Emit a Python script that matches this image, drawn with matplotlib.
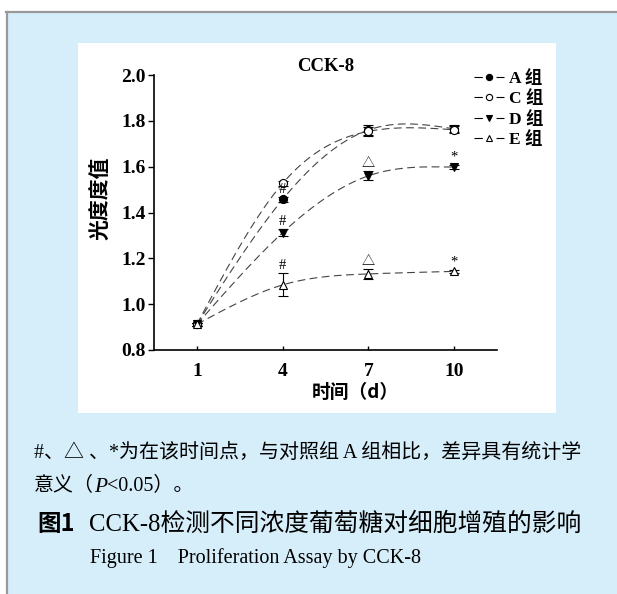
import numpy as np
import matplotlib
matplotlib.use("Agg")
import matplotlib.pyplot as plt
from matplotlib.patches import Rectangle
from matplotlib.lines import Line2D

# ---------------- data ----------------
days = [1, 4, 7, 10]
groups = ["A 组", "C 组", "D 组", "E 组"]
val_A = [0.912, 1.457, 1.760, 1.765]
val_C = [0.912, 1.527, 1.754, 1.761]
val_D = [0.912, 1.312, 1.560, 1.598]
val_E = [0.912, 1.084, 1.132, 1.143]
err_A = [0.008, 0.010, 0.020, 0.015]
err_C = [0.008, 0.010, 0.020, 0.015]
err_D = [0.008, 0.015, 0.020, 0.008]
err_E = [0.008, 0.050, 0.020, 0.008]
# significance marks: (group index, day index, symbol)
sig_marks = [(0, 1, "#"), (2, 1, "#"), (3, 1, "#"),
             (2, 2, "△"), (3, 2, "△"),
             (2, 3, "*"), (3, 3, "*")]
yticks = [0.8, 1.0, 1.2, 1.4, 1.6, 1.8, 2.0]

values = [val_A, val_C, val_D, val_E]
errors = [err_A, err_C, err_D, err_E]
markers = ["o", "o", "v", "^"]
mfc = ["black", "white", "black", "white"]


def natural_spline(x, y, xq):
    """Smooth connecting curve through the data points (natural cubic spline)."""
    x = np.asarray(x, float)
    y = np.asarray(y, float)
    n = len(x)
    h = np.diff(x)
    A = np.zeros((n, n))
    b = np.zeros(n)
    A[0, 0] = A[-1, -1] = 1
    for i in range(1, n - 1):
        A[i, i - 1] = h[i - 1]
        A[i, i] = 2 * (h[i - 1] + h[i])
        A[i, i + 1] = h[i]
        b[i] = 6 * ((y[i + 1] - y[i]) / h[i] - (y[i] - y[i - 1]) / h[i - 1])
    M = np.linalg.solve(A, b)
    out = np.empty_like(xq)
    for k, xv in enumerate(xq):
        i = min(max(np.searchsorted(x, xv) - 1, 0), n - 2)
        t1 = x[i + 1] - xv
        t0 = xv - x[i]
        out[k] = (M[i] * t1 ** 3 / (6 * h[i]) + M[i + 1] * t0 ** 3 / (6 * h[i])
                  + (y[i] / h[i] - M[i] * h[i] / 6) * t1
                  + (y[i + 1] / h[i] - M[i + 1] * h[i] / 6) * t0)
    return out


W, H = 617, 594
fig = plt.figure(figsize=(W / 100, H / 100), dpi=100)
fig.patch.set_facecolor("white")


def fx(px):
    return px / W


def fy(py):
    return 1 - py / H


# background
blue = "#D6EEFA"
fig.add_artist(Rectangle((fx(7), 0), 1 - fx(7), fy(12), transform=fig.transFigure,
                         facecolor=blue, edgecolor="none", zorder=-3))
fig.add_artist(Line2D([fx(6), 1], [fy(12), fy(12)], transform=fig.transFigure,
                      color="#999999", lw=1.6, zorder=-2))
fig.add_artist(Line2D([fx(6.5), fx(6.5)], [0, fy(12)], transform=fig.transFigure,
                      color="#999999", lw=1.6, zorder=-2))
fig.add_artist(Rectangle((fx(78), fy(413)), fx(556) - fx(78), fy(43) - fy(413),
                         transform=fig.transFigure, facecolor="white",
                         edgecolor="none", zorder=-1))

serif = "Liberation Serif"
cjk = "Noto Sans CJK SC"

ax = fig.add_axes([fx(154), fy(350), fx(497) - fx(154), fy(75) - fy(350)])
ax.set_facecolor("none")
ax.set_xlim(-0.5, 11.5)
ax.set_ylim(0.8, 2.0)
for s in ["top", "right"]:
    ax.spines[s].set_visible(False)
for s in ["left", "bottom"]:
    ax.spines[s].set_linewidth(1.2)

ax.set_xticks(days)
ax.set_xticklabels([str(d) for d in days], fontfamily=serif, fontweight="bold", fontsize=14)
ax.set_yticks(yticks)
ax.set_yticklabels([f"{v:.1f}" for v in yticks], fontfamily=serif, fontweight="bold", fontsize=14)
ax.tick_params(axis="x", direction="in", length=3, width=1, pad=9)
ax.tick_params(axis="y", direction="out", length=4, width=1, pad=2)

xx = np.linspace(days[0], days[-1], 200)
handles = []
leg_fs = 12.5
hlen = 1.75
L = hlen * leg_fs          # handle length in points
a = 6.0                    # visible dash on each side of the marker (points)
lw_leg = 0.8
for i, (v, e) in enumerate(zip(values, errors)):
    ax.plot(xx, natural_spline(days, v, xx), ls=(0, (7, 4)), color="#444444", lw=0.8, zorder=2)
    ax.errorbar(days, v, yerr=e, fmt="none", ecolor="black", elinewidth=0.8,
                capsize=3.5, capthick=0.8, zorder=3)
    ax.plot(days, v, ls="none", marker=markers[i], ms=5.8, mfc=mfc[i], mec="black",
            mew=0.8, zorder=4)
    handles.append(Line2D([], [], ls=(0, (a / lw_leg, (L - 2 * a) / lw_leg)), color="black",
                          lw=lw_leg, marker=markers[i], ms=4.5, mfc=mfc[i], mec="black",
                          mew=0.8))

for gi, di, sym in sig_marks:
    top = values[gi][di] + errors[gi][di]
    fam = [cjk] if sym == "△" else [serif]
    ax.annotate(sym, (days[di], top), xytext=(0, 1), textcoords="offset points",
                ha="center", va="bottom", fontsize=10.5 if sym != "△" else 9.5,
                family=fam, zorder=5)

ax.set_title("CCK-8", fontfamily=serif, fontweight="bold", fontsize=13.5, pad=2)
ax.set_ylabel("光度度值", family=[cjk], fontweight="bold", fontsize=15)
ax.yaxis.set_label_coords((111 - 154) / 343, (350 - 198) / 275)

fig.text(fx(355), fy(392), "时间（d）", family=[cjk, serif], fontweight="bold",
         fontsize=13.5, ha="center", va="center")

leg = ax.legend(handles, groups, loc="upper left", bbox_to_anchor=(fx(474), fy(70)),
                bbox_transform=fig.transFigure, frameon=False, handlelength=hlen,
                handletextpad=0.25, labelspacing=0.2, borderaxespad=0, borderpad=0,
                fontsize=leg_fs)
for t in leg.get_texts():
    t.set_family([serif, cjk])
    t.set_fontweight("bold")

# notes / caption
fam_txt = [serif, cjk]
fs_note = 14.4
fig.text(fx(34), fy(453), "#、△ 、*为在该时间点，与对照组 A 组相比，差异具有统计学",
         family=fam_txt, fontsize=fs_note, va="center", ha="left")
t1 = fig.text(fx(34), fy(487), "意义（", family=fam_txt, fontsize=fs_note, va="center", ha="left")
ann_p = fig.add_artist(plt.Annotation("P", xy=(1, 0), xycoords=t1, xytext=(0, 0),
                                      textcoords="offset points", va="bottom",
                                      family=[serif], style="italic", fontsize=fs_note + 1))
fig.add_artist(plt.Annotation("<0.05）。", xy=(1, 0), xycoords=ann_p, xytext=(0, 0),
                              textcoords="offset points", va="bottom",
                              family=fam_txt, fontsize=fs_note))

fs_cap = 17.8
fig.text(fx(37), fy(524), "图1", family=[cjk, serif], fontweight="bold",
         fontsize=17, va="center", ha="left")
fig.text(fx(89), fy(524), "CCK-8检测不同浓度葡萄糖对细胞增殖的影响",
         family=fam_txt, fontsize=fs_cap, va="center", ha="left")
fig.text(fx(90), fy(558), "Figure 1    Proliferation Assay by CCK-8", family=[serif],
         fontsize=14.5, va="center", ha="left")

fig.savefig("out.png", dpi=100, facecolor=fig.get_facecolor())
